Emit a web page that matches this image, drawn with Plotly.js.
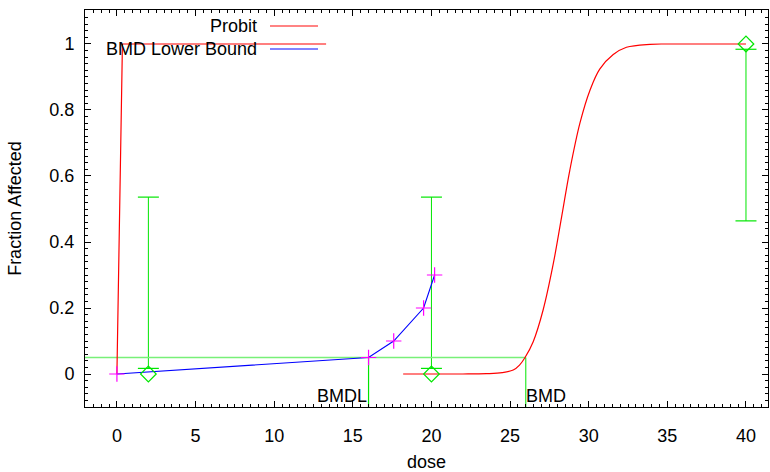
<!DOCTYPE html>
<html>
<head>
<meta charset="utf-8">
<script src="https://cdn.plot.ly/plotly-3.0.1.min.js"></script>
<style>html,body{margin:0;padding:0;background:#fff;}#chart{width:770px;height:472px;}</style>
</head>
<body>
<div id="chart"></div>
<script>
// Observed data (dose, fraction, confidence limits)
const doses = [2, 20, 40];
const fracs = [0, 0, 1];
const ciLow = [0.017, 0.017, 0.464];
const ciHigh = [0.536, 0.536, 0.984];

// Probit model curve
const probitX1 = [0, 0.35, 13.3];
const probitY1 = [0, 1, 1];
const probitX2 = [18.2, 22, 23.5, 24.5, 25.2, 25.6, 25.95, 26.47, 27.1, 27.75, 28.28, 28.8, 29.44, 30.08, 30.7, 31.56, 32.4, 33.9, 35, 40];
const probitY2 = [0, 0, 0.001, 0.004, 0.012, 0.027, 0.05, 0.098, 0.194, 0.335, 0.477, 0.618, 0.76, 0.86, 0.924, 0.968, 0.99, 0.999, 1, 1];

// BMD lower bound curve
const bmdlX = [0, 16, 17.6, 19.5, 20.2];
const bmdlY = [0, 0.05, 0.1, 0.2, 0.3];

// Benchmark values
const bmr = 0.05;
const bmdl = 16;
const bmd = 26;

const xRange = [-2.03, 41.4];
const yRange = [-0.1, 1.103];

const green = 'rgb(0,230,0)';
const font = 'Liberation Sans, Arial, sans-serif';

// error bar segments
const ebX = [], ebY = [], capX = [], capY = [];
doses.forEach((d, i) => {
  ebX.push(d, d, null); ebY.push(ciLow[i], ciHigh[i], null);
  capX.push(d, d); capY.push(ciLow[i], ciHigh[i]);
});

const traces = [
  {x: ebX, y: ebY, mode: 'lines', line: {color: green, width: 1}, hoverinfo: 'skip'},
  {x: capX, y: capY, mode: 'markers', marker: {symbol: 'line-ew', size: 15, line: {color: green, width: 1.2}}},
  {x: [xRange[0], bmd], y: [bmr, bmr], mode: 'lines', line: {color: 'rgb(120,240,120)', width: 1.5}},
  {x: [bmdl, bmdl], y: [bmr, yRange[0]], mode: 'lines', line: {color: green, width: 1.2}},
  {x: [bmd, bmd], y: [bmr, yRange[0]], mode: 'lines', line: {color: green, width: 1}},
  {x: probitX1, y: probitY1, mode: 'lines', line: {color: '#ff0000', width: 1.2}},
  {x: probitX2, y: probitY2, mode: 'lines', line: {color: '#ff0000', width: 1.2, shape: 'spline', smoothing: 1}},
  {x: bmdlX, y: bmdlY, mode: 'lines+markers', line: {color: '#0000ff', width: 1.1},
   marker: {symbol: 'cross-thin', size: 11, line: {color: '#ff00ff', width: 1.2}}},
  {x: doses, y: fracs, mode: 'markers', marker: {symbol: 'diamond-open', size: 12, color: green, line: {color: green, width: 1.2}}}
];

const axisCommon = {
  showline: true, mirror: 'allticks', linecolor: '#000', linewidth: 1,
  ticks: 'inside', ticklen: 6, tickcolor: '#000', tickwidth: 1,
  showgrid: false, zeroline: false,
  tickfont: {family: font, size: 18, color: '#000'}
};

const pl = 85, pr = 768, pt = 10, pb = 407;
const px = v => (v - pl) / (pr - pl);
const py = v => (pb - v) / (pb - pt);

const layout = {
  width: 770, height: 472,
  margin: {l: 85, r: 2, t: 10, b: 65},
  paper_bgcolor: '#fff', plot_bgcolor: '#fff',
  showlegend: false,
  xaxis: Object.assign({}, axisCommon, {
    range: xRange, dtick: 5, tick0: 0, ticklabelstandoff: 12,
    minor: {dtick: 0.5, ticks: 'inside', ticklen: 3, tickcolor: '#000'},
    title: {text: 'dose', font: {family: font, size: 18, color: '#000'}, standoff: 11}
  }),
  yaxis: Object.assign({}, axisCommon, {
    range: yRange, dtick: 0.2, tick0: 0, ticklabelstandoff: 6,
    minor: {dtick: 0.02, ticks: 'inside', ticklen: 3, tickcolor: '#000'},
    title: {text: 'Fraction Affected', font: {family: font, size: 18, color: '#000'}, standoff: 23}
  }),
  annotations: [
    {x: bmdl, y: yRange[0], xref: 'x', yref: 'y', text: 'BMDL', showarrow: false, xanchor: 'right', yanchor: 'bottom', yshift: -1, font: {family: font, size: 18, color: '#000'}},
    {x: bmd, y: yRange[0], xref: 'x', yref: 'y', text: 'BMD', showarrow: false, xanchor: 'left', yanchor: 'bottom', yshift: -1, xshift: -2, font: {family: font, size: 18, color: '#000'}},
    {x: px(259), y: py(26), xref: 'paper', yref: 'paper', text: 'Probit', showarrow: false, xanchor: 'right', yanchor: 'middle', font: {family: font, size: 18, color: '#000'}},
    {x: px(259), y: py(49), xref: 'paper', yref: 'paper', text: 'BMD Lower Bound', showarrow: false, xanchor: 'right', yanchor: 'middle', font: {family: font, size: 18, color: '#000'}}
  ],
  shapes: [
    {type: 'line', xref: 'paper', yref: 'paper', x0: px(270), x1: px(318), y0: py(26), y1: py(26), line: {color: 'rgb(255,90,90)', width: 1.5}},
    {type: 'line', xref: 'paper', yref: 'paper', x0: px(270), x1: px(318), y0: py(49), y1: py(49), line: {color: 'rgb(90,90,255)', width: 1.5}}
  ]
};

Plotly.newPlot('chart', traces, layout, {staticPlot: true, displayModeBar: false});
</script>
</body>
</html>
